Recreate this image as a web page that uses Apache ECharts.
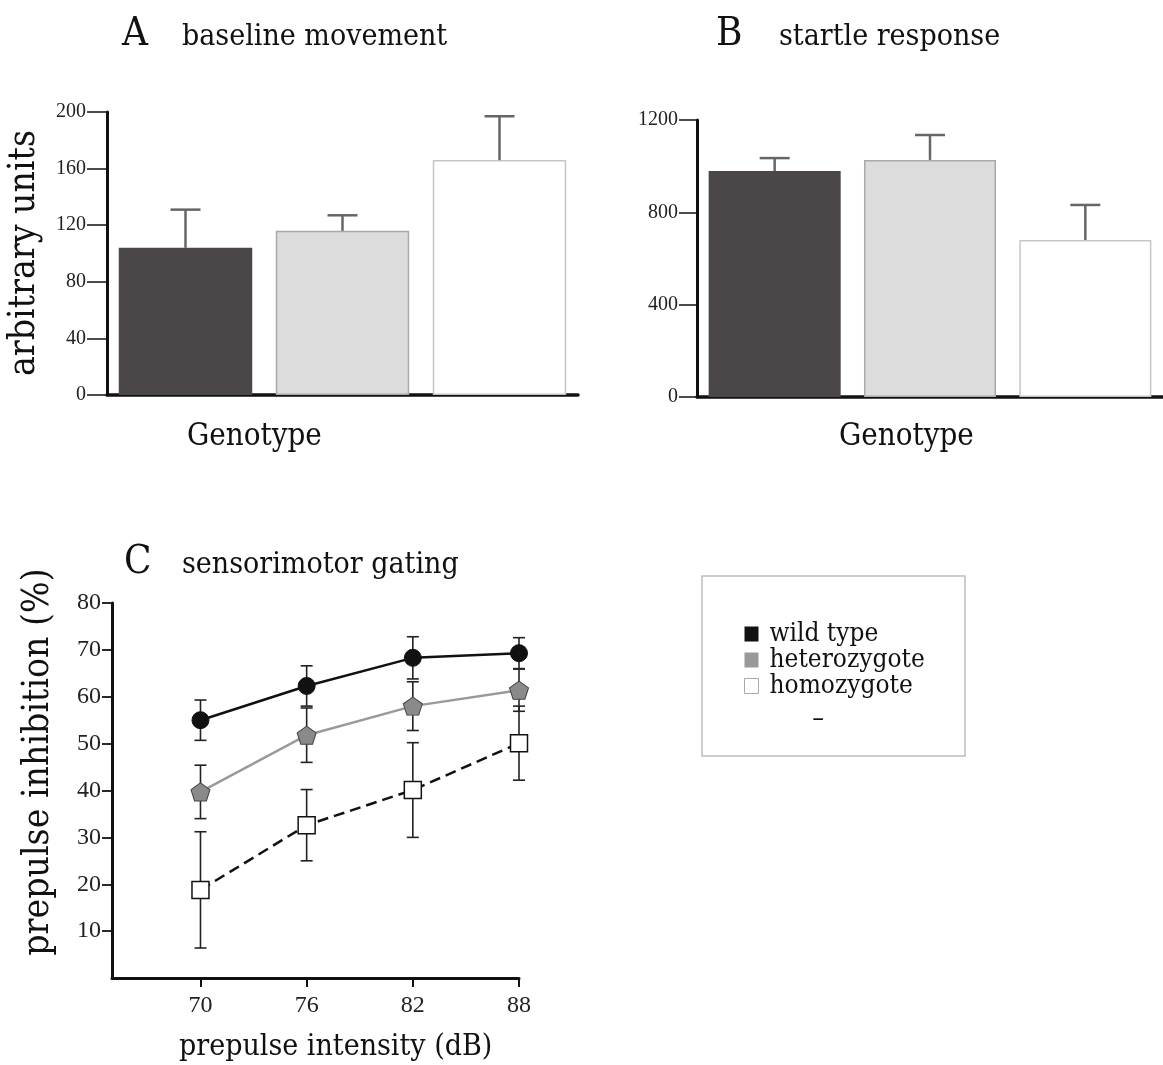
<!DOCTYPE html>
<html><head><meta charset="utf-8">
<script src="https://cdn.jsdelivr.net/npm/echarts@6/dist/echarts.min.js"></script>
<style>html,body{margin:0;padding:0;background:#fff}#c{width:1163px;height:1065px}</style>
</head><body><div id="c"></div>
<script>
// ---- data ----
const genotypes = ['wild type', 'heterozygote', 'homozygote'];
const baselineMean = [104, 116, 166];
const baselineErr = [27, 11, 31];
const startleMean = [979, 1027, 680];
const startleErr = [56, 108, 152];
const intensity = [70, 76, 82, 88];
const wtMean = [55.0, 62.3, 68.3, 69.3];
const wtErr = [4.3, 4.3, 4.5, 3.3];
const hetMean = [39.7, 51.8, 58.0, 61.4];
const hetErr = [5.7, 5.8, 5.2, 4.5];
const homMean = [18.8, 32.6, 40.1, 50.1];
const homErr = [12.4, 7.6, 10.1, 7.9];
const ticksCy = [10, 20, 30, 40, 50, 60, 70, 80];
const ticksCx = [70, 76, 82, 88];

// ---- styles ----
const TF = "'DejaVu Serif Condensed','DejaVu Serif',serif";
const NF = "'Liberation Serif','Times New Roman',serif";
const barStyles = [
  {color: '#4b4647'},
  {color: '#dcdcdc', borderColor: '#a9a9a9', borderWidth: 1.5},
  {color: '#ffffff', borderColor: '#c6c6c6', borderWidth: 1.5}
];

const chart = echarts.init(document.getElementById('c'), null, {renderer: 'canvas'});

function barErr(params, api) {
  const i = api.value(0), m = api.value(1), e = api.value(2);
  const p0 = api.coord([i, m]), p1 = api.coord([i, m + e]);
  const hw = 15, st = {stroke: '#666', lineWidth: 2.5};
  return {type: 'group', children: [
    {type: 'line', shape: {x1: p0[0], y1: p0[1], x2: p1[0], y2: p1[1]}, style: st},
    {type: 'line', shape: {x1: p1[0] - hw, y1: p1[1], x2: p1[0] + hw, y2: p1[1]}, style: st}
  ]};
}
function lineErr(params, api) {
  const x = api.value(0), m = api.value(1), e = api.value(2);
  const pt = api.coord([x, m + e]), pb = api.coord([x, m - e]);
  const hw = 6, st = {stroke: '#222', lineWidth: 1.6};
  return {type: 'group', children: [
    {type: 'line', shape: {x1: pt[0], y1: pt[1], x2: pb[0], y2: pb[1]}, style: st},
    {type: 'line', shape: {x1: pt[0] - hw, y1: pt[1], x2: pt[0] + hw, y2: pt[1]}, style: st},
    {type: 'line', shape: {x1: pb[0] - hw, y1: pb[1], x2: pb[0] + hw, y2: pb[1]}, style: st}
  ]};
}

const barAxisY = (max, interval, tickLen) => ({
  type: 'value', min: 0, max: max, interval: interval,
  axisLine: {show: true, lineStyle: {color: '#111', width: 3}},
  axisTick: {show: true, length: tickLen, lineStyle: {color: '#111', width: 1.5}},
  axisLabel: {fontFamily: NF, fontSize: 20, color: '#222', margin: tickLen + 1, formatter: v => String(v)},
  splitLine: {show: false}
});
const barAxisX = (gi) => ({
  type: 'category', gridIndex: gi, data: genotypes,
  axisLine: {show: true, lineStyle: {color: '#111', width: 3.5}},
  axisTick: {show: false}, axisLabel: {show: false}
});

const pentagon = 'path://M50,0 L100,37 L81,100 L19,100 L0,37 Z';
const tStyle = (s) => ({fontFamily: TF, fontSize: s, fontWeight: 'normal', color: '#111'});

const option = {
  backgroundColor: '#fff',
  animation: false,
  title: [
    {text: 'A', left: 117, top: 10, textStyle: tStyle(40)},
    {text: 'baseline movement', left: 177, top: 17, textStyle: tStyle(30)},
    {text: 'B', left: 711, top: 10, textStyle: tStyle(40)},
    {text: 'startle response', left: 774, top: 17, textStyle: tStyle(30)},
    {text: 'C', left: 119, top: 538, textStyle: tStyle(40)},
    {text: 'sensorimotor gating', left: 177, top: 545, textStyle: tStyle(30)},
    {text: 'Genotype', left: 182, top: 416, textStyle: tStyle(31)},
    {text: 'Genotype', left: 834, top: 416, textStyle: tStyle(31)},
    {text: 'prepulse intensity (dB)', left: 174, top: 1027, textStyle: tStyle(30)}
  ],
  graphic: [
    {type: 'text', x: 24, y: 253, rotation: Math.PI / 2,
     style: {text: 'arbitrary units', fontFamily: TF, fontSize: 37, fill: '#111', align: 'center', verticalAlign: 'middle'}},
    {type: 'text', x: 38, y: 762, rotation: Math.PI / 2,
     style: {text: 'prepulse inhibition (%)', fontFamily: TF, fontSize: 37, fill: '#111', align: 'center', verticalAlign: 'middle'}},
    {type: 'rect', shape: {x: 702, y: 576, width: 263, height: 180},
     style: {fill: 'none', stroke: '#bdbdbd', lineWidth: 1.5}},
    {type: 'text', x: 818, y: 719,
     style: {text: '–', fontFamily: TF, fontSize: 26, fill: '#111', align: 'center', verticalAlign: 'middle'}}
  ],
  legend: {
    left: 739, top: 616, orient: 'vertical', selectedMode: false,
    itemWidth: 14, itemHeight: 15, itemGap: 0,
    textStyle: {fontFamily: TF, fontSize: 26, lineHeight: 24, color: '#111', padding: [0, 0, 0, 6]},
    data: [
      {name: 'wild type', icon: 'rect', itemStyle: {color: '#111', borderWidth: 0}},
      {name: 'heterozygote', icon: 'rect', itemStyle: {color: '#999', borderWidth: 0}},
      {name: 'homozygote', icon: 'rect', itemStyle: {color: '#fff', borderColor: '#aaa', borderWidth: 1}}
    ]
  },
  grid: [
    {left: 107, top: 112, width: 471, height: 283},
    {left: 697, top: 120, width: 466, height: 277},
    {left: 112, top: 603, width: 407, height: 375}
  ],
  xAxis: [
    barAxisX(0),
    barAxisX(1),
    {type: 'value', gridIndex: 2, min: 65, max: 88,
     axisLine: {show: true, lineStyle: {color: '#111', width: 3}},
     axisTick: {show: true, length: 9, customValues: ticksCx, lineStyle: {color: '#111', width: 2}},
     axisLabel: {customValues: ticksCx, fontFamily: NF, fontSize: 24, color: '#222', margin: 16},
     splitLine: {show: false}}
  ],
  yAxis: [
    Object.assign(barAxisY(200, 40, 20), {gridIndex: 0}),
    Object.assign(barAxisY(1200, 400, 18), {gridIndex: 1}),
    {type: 'value', gridIndex: 2, min: 0, max: 80,
     axisLine: {show: true, lineStyle: {color: '#111', width: 3}},
     axisTick: {show: true, length: 10, customValues: ticksCy, lineStyle: {color: '#111', width: 1.8}},
     axisLabel: {customValues: ticksCy, fontFamily: NF, fontSize: 24, color: '#222', margin: 11},
     splitLine: {show: false}}
  ],
  series: [
    {type: 'bar', xAxisIndex: 0, yAxisIndex: 0, barWidth: '85%',
     data: baselineMean.map((v, i) => ({value: v, itemStyle: barStyles[i]})), z: 2},
    {type: 'custom', xAxisIndex: 0, yAxisIndex: 0, renderItem: barErr, z: 3,
     encode: {x: 0, y: 1}, data: baselineMean.map((v, i) => [i, v, baselineErr[i]])},
    {type: 'bar', xAxisIndex: 1, yAxisIndex: 1, barWidth: '85%',
     data: startleMean.map((v, i) => ({value: v, itemStyle: barStyles[i]})), z: 2},
    {type: 'custom', xAxisIndex: 1, yAxisIndex: 1, renderItem: barErr, z: 3,
     encode: {x: 0, y: 1}, data: startleMean.map((v, i) => [i, v, startleErr[i]])},

    {type: 'custom', xAxisIndex: 2, yAxisIndex: 2, renderItem: lineErr, z: 1,
     encode: {x: 0, y: 1}, data: intensity.map((x, i) => [x, wtMean[i], wtErr[i]])},
    {type: 'custom', xAxisIndex: 2, yAxisIndex: 2, renderItem: lineErr, z: 1,
     encode: {x: 0, y: 1}, data: intensity.map((x, i) => [x, hetMean[i], hetErr[i]])},
    {type: 'custom', xAxisIndex: 2, yAxisIndex: 2, renderItem: lineErr, z: 1,
     encode: {x: 0, y: 1}, data: intensity.map((x, i) => [x, homMean[i], homErr[i]])},

    {name: 'wild type', type: 'line', xAxisIndex: 2, yAxisIndex: 2, z: 5,
     data: intensity.map((x, i) => [x, wtMean[i]]),
     symbol: 'circle', symbolSize: 17,
     lineStyle: {color: '#111', width: 2.5},
     itemStyle: {color: '#111', borderColor: '#111', borderWidth: 1}},
    {name: 'heterozygote', type: 'line', xAxisIndex: 2, yAxisIndex: 2, z: 5,
     data: intensity.map((x, i) => [x, hetMean[i]]),
     symbol: pentagon, symbolSize: [19, 18],
     lineStyle: {color: '#9a9a9a', width: 2.5},
     itemStyle: {color: '#8a8a8a', borderColor: '#444', borderWidth: 1}},
    {name: 'homozygote', type: 'line', xAxisIndex: 2, yAxisIndex: 2, z: 5,
     data: intensity.map((x, i) => [x, homMean[i]]),
     symbol: 'rect', symbolSize: 17,
     lineStyle: {color: '#111', width: 2.5, type: [11, 6]},
     itemStyle: {color: '#fff', borderColor: '#111', borderWidth: 1.5}}
  ]
};
chart.setOption(option);
</script>
</body></html>
